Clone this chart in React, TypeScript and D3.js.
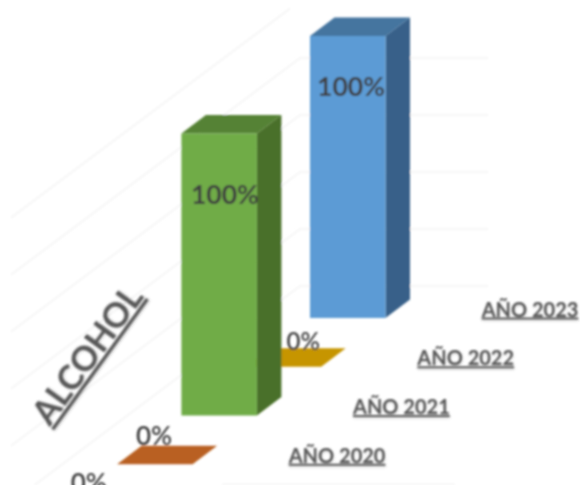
import React from "react";
import * as d3 from "d3";

const seriesNames = ["", "AÑO 2020", "AÑO 2021", "AÑO 2022", "AÑO 2023"];
const seriesValues = [0, 0, 100, 0, 100];
const frontColors = ["#a5a5a5", "#b96023", "#6fac46", "#c69500", "#5b9bd5"];
const topColors = ["#a5a5a5", "#b96023", "#548235", "#c69500", "#44749f"];
const sideColors = ["#a5a5a5", "#b96023", "#4a7029", "#c69500", "#386189"];
const gridTicks = [0, 20, 40, 60, 80, 100];
const axisTitle = "ALCOHOL";

// layout
const W = 580, H = 485;
const depthX = d3.scaleLinear().domain([0, 4]).range([52.8, 310]);
const depthY = d3.scaleLinear().domain([0, 4]).range([513, 318]);
const barH = d3.scaleLinear().domain([0, 100]).range([0, 282]);
const wallY = d3.scaleLinear().domain([0, 100]).range([286, 1]);
const barW = 75.5, dX = 24.5, dY = 18.5;
const labelNudgeX = [36, 37, 43.5, 57.5, 41];
const labelNudgeY = [-21, -19, 70, -17, 60];
const labelSizes = [26, 26, 26.5, 24, 26.5];

const poly = d3.line<[number, number]>().x((d) => d[0]).y((d) => d[1]);
const closed = (pts: [number, number][]) => poly(pts) + "Z";

const FONT = "Lato, Carlito, sans-serif";

export default function App() {
  const order = seriesValues.map((_, i) => i).reverse();
  return (
    <svg width={W} height={H} viewBox={`0 0 ${W} ${H}`}
      style={{ position: "absolute", left: 0, top: 0, background: "#fff" }}>
      <defs>
        <filter id="soft" x="-5%" y="-5%" width="110%" height="110%">
          <feGaussianBlur stdDeviation="0.8" />
        </filter>
        <filter id="shadow" x="-10%" y="-20%" width="120%" height="150%">
          <feDropShadow dx="0.3" dy="1.2" stdDeviation="0.8" floodColor="#000" floodOpacity="0.2" />
        </filter>
        <clipPath id="plot"><rect x={11} y={0} width={W} height={H} /></clipPath>
      </defs>
      <g filter="url(#soft)">
        <g clipPath="url(#plot)" fill="none" stroke="#f4f4f4" strokeWidth={1.6}>
          {gridTicks.map((t) => {
            const y = wallY(t);
            const xBend = 300;
            const len = 300;
            const pts: [number, number][] = [[xBend - len, y + len * 0.75], [xBend, y], [488, y]];
            return <path key={t} d={t === 100 ? poly([[0, y + 225], [290, y + 7.5]]) ?? "" : poly(pts) ?? ""} />;
          })}
          <path d="M222 484.5H455" stroke="#f2f2f2" />
        </g>
        {order.map((i) => {
          const x = depthX(i), yB = depthY(i), h = barH(seriesValues[i]), yT = yB - h;
          if (yT - dY > H) return null;
          return (
            <g key={i}>
              {h > 0 && <path d={closed([[x + barW, yT], [x + barW + dX, yT - dY], [x + barW + dX, yB - dY], [x + barW, yB]])} fill={sideColors[i]} />}
              <path d={closed([[x, yT], [x + dX, yT - dY], [x + barW + dX, yT - dY], [x + barW, yT]])} fill={topColors[i]} />
              {h > 0 && <rect x={x} y={yT} width={barW} height={h} fill={frontColors[i]} />}
            </g>
          );
        })}
        <g fontFamily={FONT} fill="#404040" textAnchor="middle">
          {seriesValues.map((v, i) => (
            <text key={i} x={depthX(i) + labelNudgeX[i]} y={depthY(i) - barH(v) + labelNudgeY[i]}
              fontSize={labelSizes[i]} fontWeight={v === 0 ? 600 : 700}>{v}%</text>
          ))}
        </g>
        <g fontFamily={FONT} fill="#595959" fontWeight={700} fontSize={20} textAnchor="middle"
          textDecoration="underline" filter="url(#shadow)">
          {seriesNames.map((n, i) => n && (
            <text key={i} x={depthX(i) + 220} y={depthY(i) - 1.5}>{n}</text>
          ))}
        </g>
        <text transform="translate(97,362) rotate(-54)" fontFamily={FONT} fill="#595959" fontWeight={700}
          fontSize={34} textAnchor="middle" textDecoration="underline" filter="url(#shadow)">{axisTitle}</text>
      </g>
    </svg>
  );
}
